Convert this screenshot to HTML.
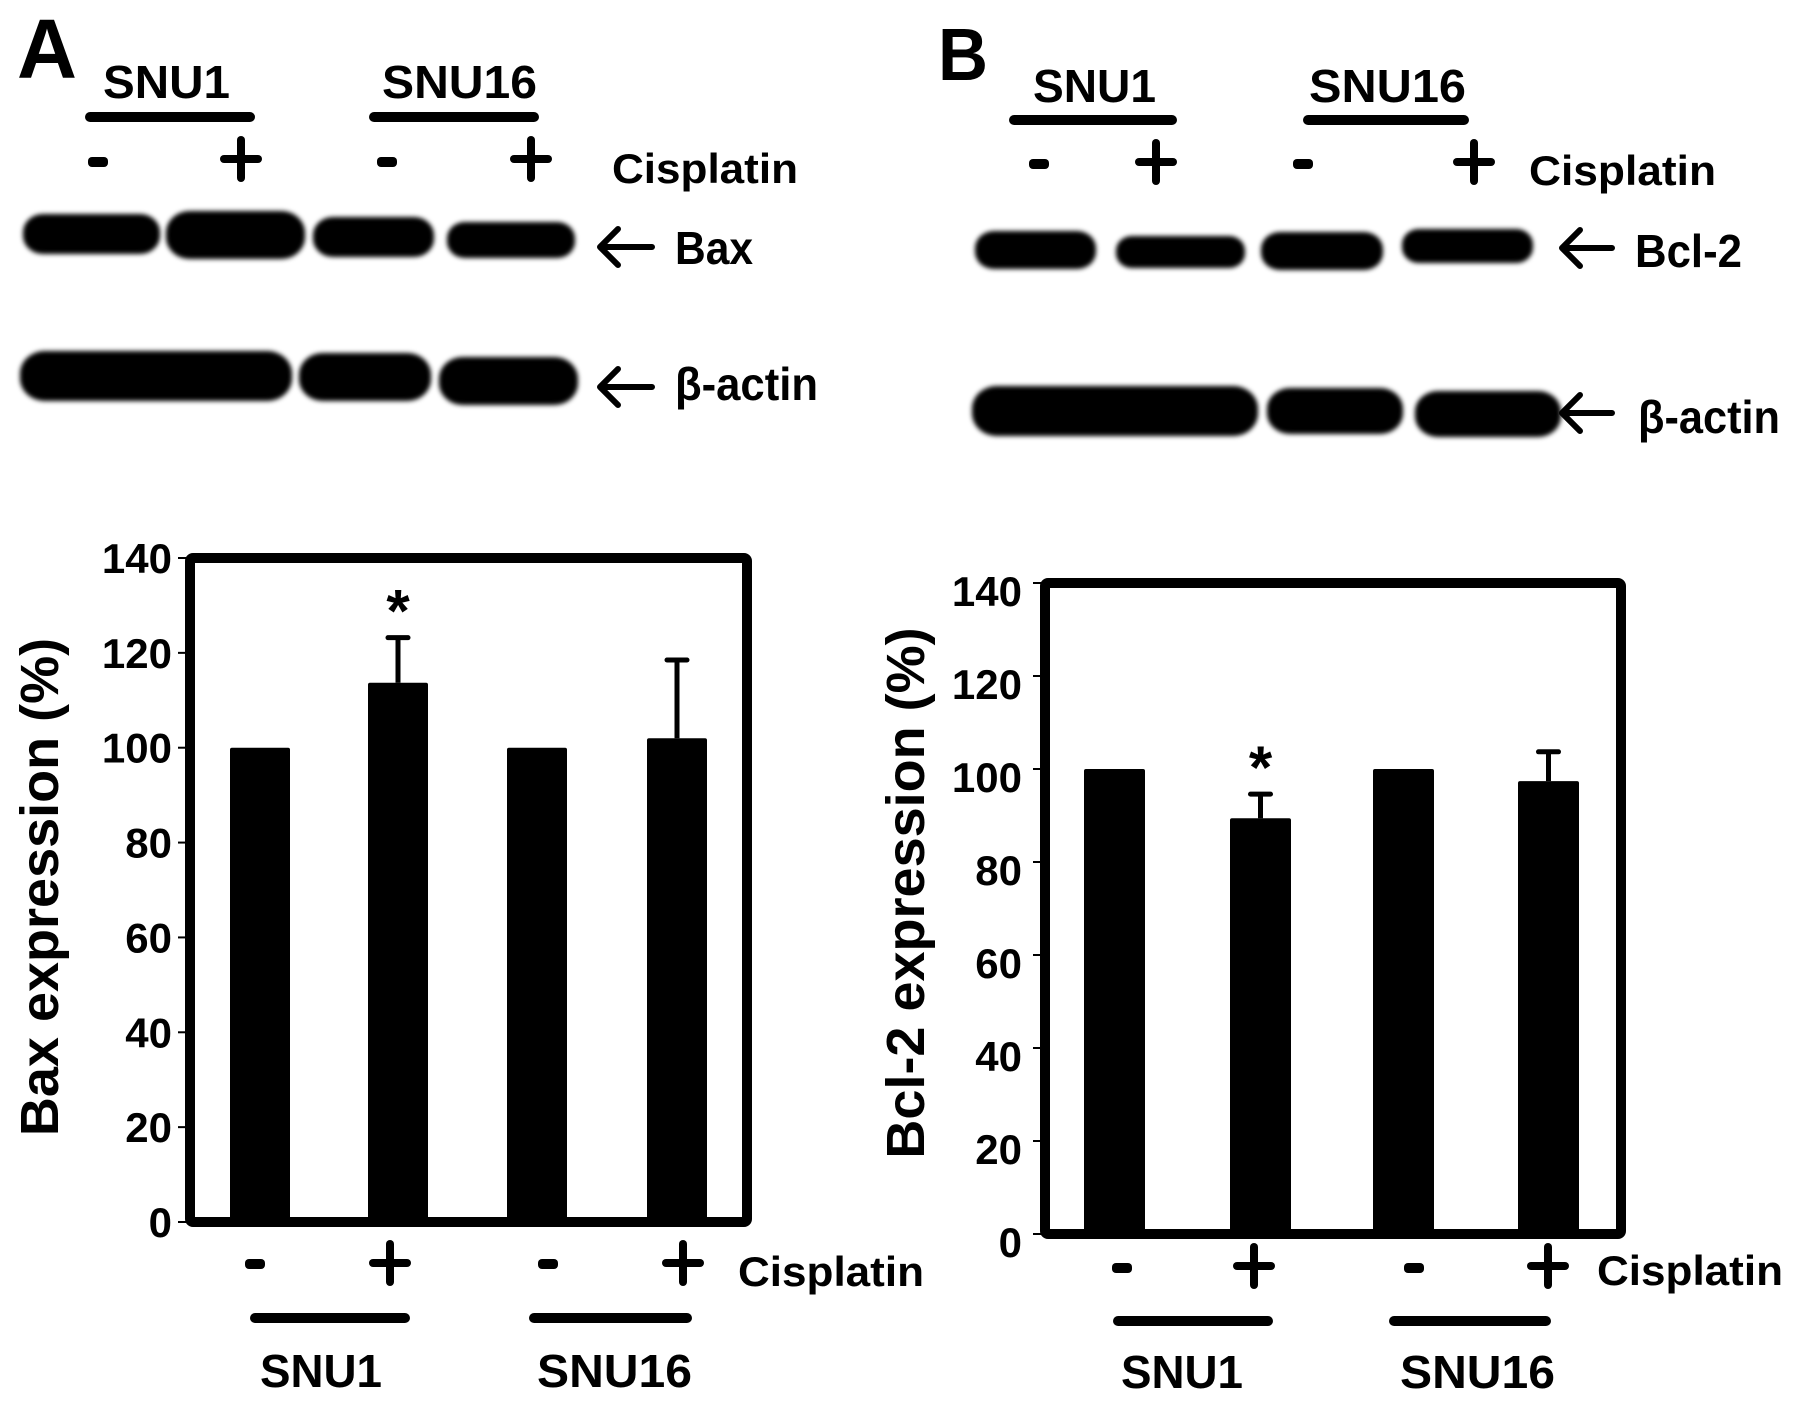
<!DOCTYPE html>
<html><head><meta charset="utf-8"><style>
html,body{margin:0;padding:0;background:#fff;}
svg{display:block;}
text{font-family:"Liberation Sans",sans-serif;font-weight:bold;fill:#000;}
</style></head>
<body>
<svg id="fig" width="1795" height="1403" viewBox="0 0 1795 1403" xmlns="http://www.w3.org/2000/svg">
<defs>
<filter id="blur" x="-10%" y="-40%" width="120%" height="180%"><feGaussianBlur stdDeviation="2.5"/></filter>
</defs>
<g id="blots"></g>
<g id="chartA"></g>
<g id="chartB"></g>
</svg>
<script>
// ---- chart data ----
const categories = ["SNU1 -", "SNU1 +", "SNU16 -", "SNU16 +"];
const baxValues = [100, 113.7, 100, 102];
const baxErrors = [0, 9.5, 0, 16.5];
const bcl2Values = [100, 89.4, 100, 97.4];
const bcl2Errors = [0, 5.2, 0, 6.3];
const tickLabels = [0, 20, 40, 60, 80, 100, 120, 140];
const baxSignificant = [false, true, false, false];
const bcl2Significant = [false, true, false, false];

const NS = "http://www.w3.org/2000/svg";
function mk(parent, tag, attrs, txt) {
  const e = document.createElementNS(NS, tag);
  for (const k in attrs) e.setAttribute(k, attrs[k]);
  if (txt !== undefined) e.textContent = txt;
  parent.appendChild(e);
  return e;
}

function drawChart(gid, cfg) {
  const g = document.getElementById(gid);
  const y = v => cfg.y0 - (v / 140) * (cfg.y0 - cfg.y140);
  tickLabels.forEach(t => {
    const tk = mk(g, "line", {x1: cfg.left - 12, x2: cfg.left, y1: y(t), y2: y(t), stroke: "#000", "stroke-width": 2});
    
    
    const lb = mk(g, "text", {x: cfg.tickX, y: y(t) + 15 + cfg.tickShift, "font-size": 42, "text-anchor": "end"}, String(t));
    
    
  });
  categories.forEach((c, i) => {
    const v = cfg.values[i];
    const bx = cfg.barX[i];
    const r = mk(g, "rect", {x: bx, y: y(v), width: cfg.barW, height: cfg.y0 - y(v), fill: "#000", rx: 2});
    
    
    const e = cfg.errors[i];
    if (e > 0) {
      const cx = bx + cfg.barW / 2;
      const el = mk(g, "line", {x1: cx, x2: cx, y1: y(v), y2: y(v + e), stroke: "#000", "stroke-width": 5});
      
      
      const cap = mk(g, "line", {x1: cx - 10, x2: cx + 10, y1: y(v + e), y2: y(v + e), stroke: "#000", "stroke-width": 5, "stroke-linecap": "round"});
      
      
    }
    if (cfg.sig[i]) {
      const st = mk(g, "text", {x: bx + cfg.barW / 2, y: y(v + e) - 6, "font-size": 60, "text-anchor": "middle"}, "*");
      
      
    }
  });
  const fr = mk(g, "rect", {x: cfg.left, y: cfg.y140, width: cfg.right - cfg.left, height: cfg.y0 - cfg.y140, fill: "none", stroke: "#000", "stroke-width": 10, rx: 3});
  
  
  const tt = mk(g, "text", {x: 0, y: 0, "font-size": 54, "text-anchor": "middle", transform: `translate(${cfg.titleX},${cfg.titleY}) rotate(-90)`}, cfg.title);
  
  
}

drawChart("chartA", {left: 190, right: 747, y0: 1222, y140: 558, barX: [230, 368, 507, 647], barW: 60,
  values: baxValues, errors: baxErrors, sig: baxSignificant, tickX: 172, tickShift: 0,
  title: "Bax expression (%)", titleX: 58, titleY: 887});
drawChart("chartB", {left: 1045, right: 1621, y0: 1234, y140: 583, barX: [1084, 1230, 1373, 1518], barW: 61,
  values: bcl2Values, errors: bcl2Errors, sig: bcl2Significant, tickX: 1022, tickShift: 8,
  title: "Bcl-2 expression (%)", titleX: 924, titleY: 893});

const B = document.getElementById("blots");
function minus(x, y, name) {
  const r = mk(B, "rect", {x: x - 10, y: y - 5, width: 20, height: 10, rx: 4, fill: "#000"});
  
  
}
function plus(x, y, name) {
  const gp = mk(B, "g", {});
  
  
  mk(gp, "line", {x1: x - 17, x2: x + 17, y1: y, y2: y, stroke: "#000", "stroke-width": 8, "stroke-linecap": "round"});
  mk(gp, "line", {x1: x, x2: x, y1: y - 19, y2: y + 19, stroke: "#000", "stroke-width": 8, "stroke-linecap": "round"});
}
function hbar(x1, x2, y, name) {
  const l = mk(B, "line", {x1: x1, x2: x2, y1: y, y2: y, stroke: "#000", "stroke-width": 10, "stroke-linecap": "round"});
  
  
}
function label(x, y, s, size, name, len, anchor) {
  const a = {x: x, y: y, "font-size": size};
  if (len) { a.textLength = len; a.lengthAdjust = "spacingAndGlyphs"; }
  if (anchor) a["text-anchor"] = anchor;
  const t = mk(B, "text", a, s);
  
  
}
function arrow(x1, x2, y, name) {
  const p = mk(B, "path", {d: `M${x2},${y} L${x1},${y} M${x1 + 18},${y - 18} L${x1},${y} L${x1 + 18},${y + 18}`, fill: "none", stroke: "#000", "stroke-width": 6, "stroke-linecap": "round", "stroke-linejoin": "round"});
  
  
}
function band(x1, x2, yc, h, name) {
  const r = mk(B, "rect", {x: x1, y: yc - h / 2, width: x2 - x1, height: h, rx: h / 2, ry: h / 2.2, fill: "#000", filter: "url(#blur)"});
  
  
}

label(17, 78, "A", 84, "panel-label-a", 60);
label(938, 80, "B", 74, "panel-label-b", 50);

label(103, 98, "SNU1", 46, "snu1-header-a", 127);
label(382, 98, "SNU16", 46, "snu16-header-a", 155);
hbar(90, 250, 117, "snu1-group-line-a");
hbar(374, 534, 117, "snu16-group-line-a");
minus(98, 162, "minus-sign"); plus(241, 159, "plus-sign"); minus(387, 162, "minus-sign"); plus(531, 159, "plus-sign");
label(612, 183, "Cisplatin", 42, "cisplatin-label-a", 186);
band(23, 160, 234, 40, "bax-band"); band(166, 305, 235, 48, "bax-band");
band(313, 434, 237, 40, "bax-band"); band(447, 575, 240, 36, "bax-band");
arrow(600, 652, 247, "bax-arrow");
label(675, 264, "Bax", 46, "bax-label", 78);
band(20, 292, 376, 50, "actin-band"); band(299, 431, 377, 48, "actin-band"); band(439, 578, 381, 48, "actin-band");
arrow(600, 652, 387, "actin-arrow-a");
label(675, 400, "β-actin", 46, "actin-label-a", 143);

label(1033, 102, "SNU1", 46, "snu1-header-b", 123);
label(1309, 102, "SNU16", 46, "snu16-header-b", 157);
hbar(1014, 1172, 120, "snu1-group-line-b");
hbar(1308, 1464, 120, "snu16-group-line-b");
minus(1039, 164, "minus-sign"); plus(1156, 162, "plus-sign"); minus(1303, 164, "minus-sign"); plus(1474, 162, "plus-sign");
label(1529, 185, "Cisplatin", 42, "cisplatin-label-b", 187);
band(975, 1096, 250, 38, "bcl2-band"); band(1116, 1245, 252, 32, "bcl2-band");
band(1261, 1383, 251, 38, "bcl2-band"); band(1402, 1533, 246, 34, "bcl2-band");
arrow(1562, 1612, 248, "bcl2-arrow");
label(1635, 267, "Bcl-2", 46, "bcl2-label", 107);
band(972, 1258, 411, 50, "actin-band"); band(1267, 1403, 411, 46, "actin-band"); band(1415, 1561, 414, 46, "actin-band");
arrow(1562, 1612, 413, "actin-arrow-b");
label(1638, 433, "β-actin", 46, "actin-label-b", 142);

minus(255, 1264, "x-minus-sign"); plus(390, 1263, "x-plus-sign"); minus(548, 1264, "x-minus-sign"); plus(683, 1263, "x-plus-sign");
label(738, 1286, "Cisplatin", 42, "x-cisplatin-label-a", 186);
hbar(255, 405, 1318, "x-snu1-line-a"); hbar(534, 687, 1318, "x-snu16-line-a");
label(260, 1387, "SNU1", 46, "x-snu1-label-a", 122);
label(537, 1387, "SNU16", 46, "x-snu16-label-a", 155);

minus(1122, 1268, "x-minus-sign"); plus(1254, 1266, "x-plus-sign"); minus(1414, 1268, "x-minus-sign"); plus(1548, 1266, "x-plus-sign");
label(1597, 1285, "Cisplatin", 42, "x-cisplatin-label-b", 186);
hbar(1118, 1268, 1321, "x-snu1-line-b"); hbar(1394, 1546, 1321, "x-snu16-line-b");
label(1121, 1388, "SNU1", 46, "x-snu1-label-b", 122);
label(1400, 1388, "SNU16", 46, "x-snu16-label-b", 155);
</script>
</body></html>
